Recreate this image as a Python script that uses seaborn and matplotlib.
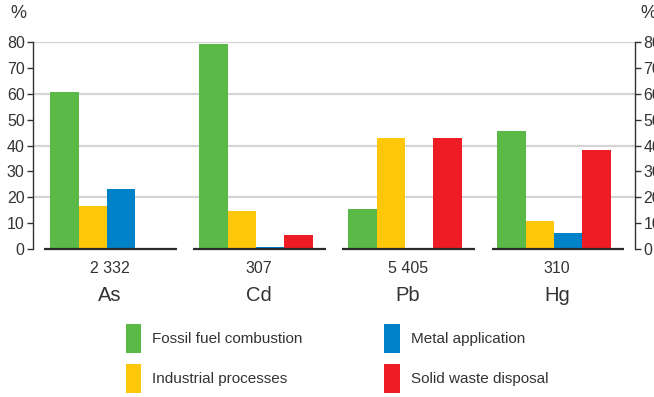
import matplotlib
matplotlib.use("Agg")
import matplotlib.pyplot as plt
import matplotlib.patches as mpatches
import seaborn as sns
import pandas as pd

# Emission shares by source for each heavy metal
metals = ["As", "Cd", "Pb", "Hg"]
totals = ["2 332", "307", "5 405", "310"]
sources = ["Fossil fuel combustion", "Industrial processes",
           "Metal application", "Solid waste disposal"]
fossil = [60.5, 79.2, 15.5, 45.6]
industrial = [16.6, 14.7, 42.9, 10.8]
metal_app = [23.2, 0.8, 0.0, 6.2]
solid_waste = [0.0, 5.4, 42.9, 38.3]
colors = ["#5BB947", "#FFC709", "#0082C8", "#EE1C25"]
yticks = [0, 10, 20, 30, 40, 50, 60, 70, 80]

rows = []
for src, vals in zip(sources, [fossil, industrial, metal_app, solid_waste]):
    for m, v in zip(metals, vals):
        rows.append({"metal": m, "source": src, "share": v})
df = pd.DataFrame(rows)

sns.set_theme(style="white")
plt.rcParams["font.family"] = ["Liberation Sans", "DejaVu Sans"]
text_col = "#333333"

W, H = 654, 397
fig = plt.figure(figsize=(W / 100, H / 100), dpi=100)
ax = fig.add_axes([33 / W, (H - 249) / H, (635 - 33) / W, 207 / H])

sns.barplot(data=df, x="metal", y="share", hue="source", order=metals,
            hue_order=sources, palette=colors, saturation=1, width=0.76,
            linewidth=0, ax=ax, legend=False, zorder=3)

ax.set_xlim(-0.497, 3.543)
ax.set_ylim(0, 80)
ax.set_yticks(yticks)
ax.set_xlabel("")
ax.set_ylabel("")
ax.set_xticks([])

# horizontal guides at every second tick
for y in [20, 40, 60, 80]:
    ax.axhline(y, color="#d4d4d4", lw=1.6, zorder=1)

# separate baseline under each group
for i in range(len(metals)):
    ax.hlines(0, i - 0.42, i + 0.47, color="#2a2a2a", lw=1.6, zorder=4, clip_on=False)

for s in ["top", "bottom"]:
    ax.spines[s].set_visible(False)
for s in ["left", "right"]:
    ax.spines[s].set_visible(True)
    ax.spines[s].set_color("#333333")
    ax.spines[s].set_linewidth(1.0)

ax.tick_params(axis="y", which="both", direction="out", length=4, width=1,
               color="#333333", labelsize=11.5, labelcolor=text_col,
               left=True, right=True, labelleft=True, labelright=True, pad=2)

# group totals and metal names under each group
for i, (m, t) in enumerate(zip(metals, totals)):
    ax.text(i + 0.02, -7.5, t, ha="center", va="center", fontsize=11.5,
            color=text_col, clip_on=False)
    ax.text(i + 0.02, -18, m, ha="center", va="center", fontsize=14.5,
            color=text_col, clip_on=False)

fig.text(10 / W, 1 - 14 / H, "%", fontsize=13, color=text_col, ha="left", va="center")
fig.text(640 / W, 1 - 14 / H, "%", fontsize=13, color=text_col, ha="left", va="center")

handles = [mpatches.Patch(facecolor=c, edgecolor="none", label=s)
           for c, s in zip(colors, sources)]
leg = fig.legend(handles=handles, ncol=2, loc="upper left",
                 bbox_to_anchor=(126 / W, 1 - 324 / H), frameon=False,
                 fontsize=11, handlelength=1.0, handleheight=2.55,
                 handletextpad=0.72, columnspacing=5.35, labelspacing=0.72,
                 borderpad=0, borderaxespad=0)
for t in leg.get_texts():
    t.set_color(text_col)

fig.savefig("out.png", dpi=100)
